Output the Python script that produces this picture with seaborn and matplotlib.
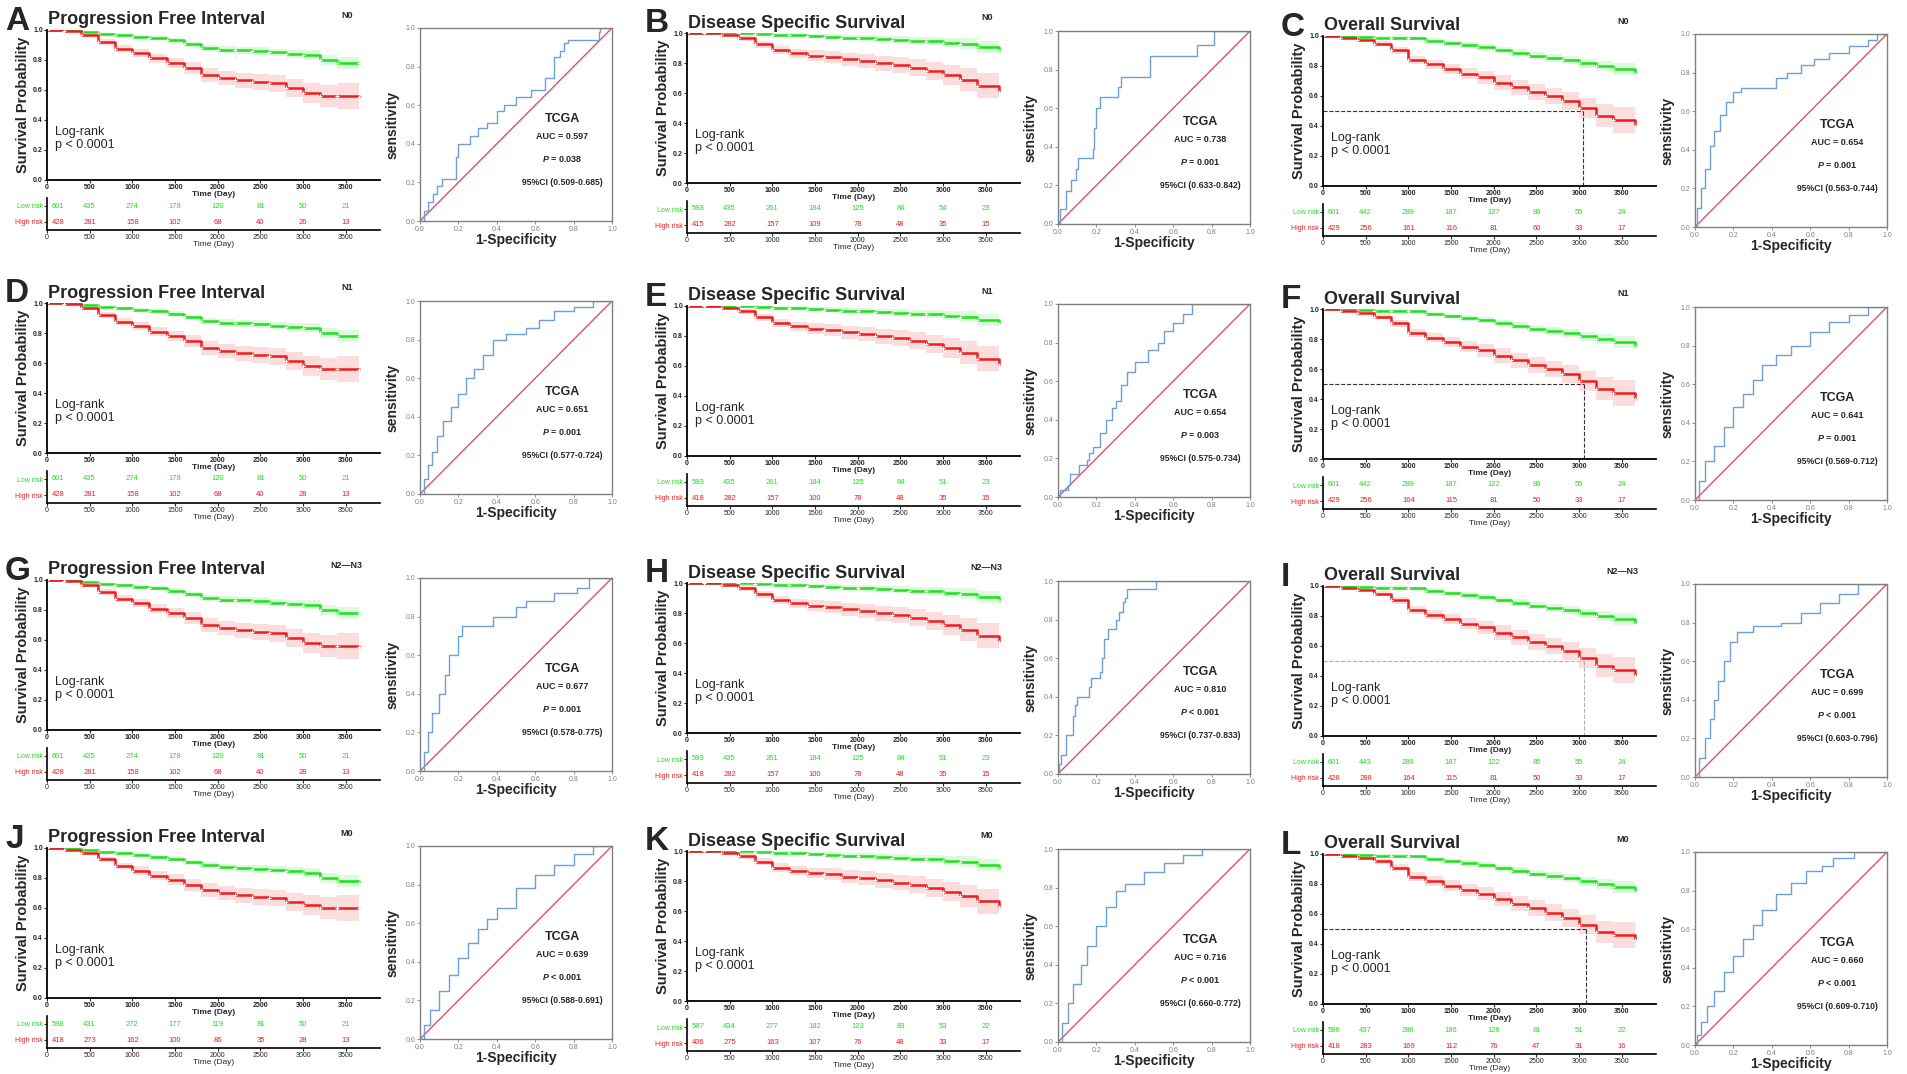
import matplotlib
matplotlib.use("Agg")
import matplotlib.pyplot as plt
import numpy as np
import seaborn as sns

# ---------------- data ----------------
km_days = [0, 200, 400, 600, 800, 1000, 1200, 1400, 1600, 1800, 2000,
           2200, 2400, 2600, 2800, 3000, 3200, 3400, 3650]

# survival (low risk = green, high risk = red)
pfi_low = [1.0, 1.0, 0.99, 0.975, 0.965, 0.955, 0.945, 0.93, 0.905, 0.88, 0.87,
           0.865, 0.86, 0.85, 0.84, 0.835, 0.80, 0.78, 0.78]
pfi_high = [1.0, 0.995, 0.965, 0.92, 0.875, 0.845, 0.81, 0.78, 0.745, 0.70, 0.68,
            0.665, 0.655, 0.645, 0.615, 0.58, 0.56, 0.56, 0.555]
pfi_m0_low = [1.0, 1.0, 0.99, 0.975, 0.965, 0.955, 0.94, 0.925, 0.905, 0.885, 0.875,
              0.865, 0.86, 0.855, 0.845, 0.835, 0.80, 0.78, 0.77]
pfi_m0_high = [1.0, 0.99, 0.965, 0.925, 0.88, 0.85, 0.815, 0.79, 0.755, 0.72, 0.70,
               0.685, 0.675, 0.665, 0.64, 0.62, 0.60, 0.60, 0.60]
dss_low = [1.0, 1.0, 1.0, 0.998, 0.995, 0.99, 0.985, 0.98, 0.975, 0.97, 0.965,
           0.96, 0.955, 0.95, 0.945, 0.935, 0.93, 0.91, 0.88]
dss_high = [1.0, 0.998, 0.99, 0.965, 0.925, 0.885, 0.865, 0.85, 0.84, 0.825, 0.815,
            0.80, 0.785, 0.77, 0.75, 0.72, 0.69, 0.65, 0.61]
dss_m0_high = [1.0, 0.998, 0.99, 0.967, 0.93, 0.89, 0.87, 0.855, 0.845, 0.83, 0.82,
               0.805, 0.79, 0.775, 0.755, 0.73, 0.70, 0.665, 0.63]
os_low = [1.0, 1.0, 0.995, 0.99, 0.99, 0.985, 0.97, 0.955, 0.94, 0.925, 0.905,
          0.89, 0.87, 0.855, 0.84, 0.82, 0.80, 0.78, 0.75]
os_high = [1.0, 0.99, 0.975, 0.95, 0.905, 0.84, 0.81, 0.78, 0.75, 0.725, 0.69,
           0.66, 0.625, 0.60, 0.565, 0.52, 0.47, 0.44, 0.40]
os_m0_high = [1.0, 0.99, 0.975, 0.952, 0.91, 0.85, 0.82, 0.79, 0.76, 0.735, 0.70,
              0.67, 0.64, 0.61, 0.575, 0.53, 0.48, 0.46, 0.43]

# half width of the shaded confidence bands
ci_low = [0, 0, 0.004, 0.007, 0.009, 0.011, 0.013, 0.015, 0.017, 0.019, 0.021,
          0.023, 0.024, 0.025, 0.027, 0.03, 0.034, 0.04, 0.045]
ci_high = [0, 0.004, 0.011, 0.017, 0.023, 0.027, 0.031, 0.035, 0.039, 0.044, 0.047,
           0.05, 0.052, 0.055, 0.06, 0.066, 0.075, 0.085, 0.09]

risk_days = [0, 500, 1000, 1500, 2000, 2500, 3000, 3500]
n_low = [
    [601, 435, 274, 178, 120, 81, 50, 21], [593, 435, 261, 184, 125, 84, 54, 23],
    [601, 442, 289, 187, 127, 86, 55, 24], [601, 435, 274, 178, 120, 81, 50, 21],
    [593, 435, 261, 184, 125, 84, 51, 23], [601, 442, 289, 187, 122, 86, 55, 24],
    [601, 435, 274, 178, 120, 81, 50, 21], [593, 435, 261, 184, 125, 84, 51, 23],
    [601, 443, 289, 187, 122, 85, 55, 24], [596, 431, 272, 177, 119, 81, 50, 21],
    [587, 434, 277, 182, 123, 83, 53, 22], [596, 437, 286, 186, 126, 81, 51, 22],
]
n_high = [
    [428, 281, 158, 102, 68, 40, 26, 13], [415, 282, 157, 109, 78, 48, 35, 15],
    [429, 256, 161, 116, 81, 60, 33, 17], [428, 281, 158, 102, 68, 40, 28, 13],
    [418, 282, 157, 100, 78, 48, 35, 15], [429, 256, 164, 115, 81, 50, 33, 17],
    [428, 281, 158, 102, 68, 40, 28, 13], [418, 282, 157, 100, 78, 48, 35, 15],
    [428, 288, 164, 115, 81, 50, 33, 17], [418, 273, 162, 100, 86, 35, 28, 13],
    [406, 275, 163, 107, 76, 48, 33, 17], [418, 283, 169, 112, 76, 47, 31, 16],
]
os_median_days = [3050, 3060, 3060, 3080]

# ROC curves: (1-specificity, sensitivity) at each vertical rise
fpr_a = [0, 0.02, 0.04, 0.07, 0.09, 0.115, 0.19, 0.20, 0.26, 0.30, 0.35, 0.40, 0.44, 0.50, 0.58, 0.65, 0.70, 0.73, 0.75, 0.77, 0.93, 0.94, 1.0]
tpr_a = [0, 0.05, 0.10, 0.14, 0.18, 0.22, 0.33, 0.40, 0.44, 0.48, 0.51, 0.57, 0.60, 0.64, 0.68, 0.74, 0.85, 0.88, 0.92, 0.94, 0.98, 1.0, 1.0]
fpr_b = [0, 0.01, 0.044, 0.07, 0.096, 0.105, 0.183, 0.19, 0.20, 0.218, 0.314, 0.33, 0.48, 0.724, 0.81, 1.0]
tpr_b = [0, 0.08, 0.17, 0.23, 0.285, 0.34, 0.39, 0.50, 0.60, 0.66, 0.71, 0.76, 0.87, 0.93, 1.0, 1.0]
fpr_c = [0, 0.01, 0.03, 0.05, 0.08, 0.10, 0.13, 0.16, 0.20, 0.24, 0.42, 0.48, 0.55, 0.62, 0.70, 0.80, 0.90, 0.95, 1.0]
tpr_c = [0, 0.10, 0.20, 0.30, 0.42, 0.50, 0.58, 0.65, 0.70, 0.72, 0.77, 0.80, 0.84, 0.87, 0.90, 0.94, 0.97, 1.0, 1.0]
fpr_d = [0, 0.02, 0.04, 0.06, 0.09, 0.12, 0.16, 0.20, 0.24, 0.28, 0.33, 0.38, 0.45, 0.55, 0.62, 0.70, 0.80, 0.90, 1.0]
tpr_d = [0, 0.08, 0.15, 0.22, 0.30, 0.38, 0.45, 0.52, 0.60, 0.65, 0.72, 0.80, 0.83, 0.86, 0.90, 0.95, 0.97, 1.0, 1.0]
fpr_e = [0, 0.01, 0.05, 0.06, 0.11, 0.15, 0.16, 0.18, 0.22, 0.25, 0.28, 0.30, 0.33, 0.36, 0.40, 0.47, 0.52, 0.55, 0.60, 0.65, 0.70, 1.0]
tpr_e = [0, 0.035, 0.06, 0.12, 0.165, 0.19, 0.23, 0.26, 0.33, 0.40, 0.46, 0.50, 0.58, 0.65, 0.70, 0.76, 0.80, 0.86, 0.90, 0.95, 1.0, 1.0]
fpr_f = [0, 0.02, 0.05, 0.10, 0.15, 0.20, 0.25, 0.30, 0.35, 0.42, 0.50, 0.60, 0.70, 0.80, 0.90, 1.0]
tpr_f = [0, 0.10, 0.20, 0.28, 0.38, 0.48, 0.55, 0.62, 0.70, 0.75, 0.80, 0.87, 0.92, 0.96, 1.0, 1.0]
fpr_g = [0, 0.02, 0.04, 0.06, 0.10, 0.13, 0.15, 0.20, 0.22, 0.38, 0.50, 0.55, 0.70, 0.82, 0.88, 1.0]
tpr_g = [0, 0.10, 0.20, 0.30, 0.40, 0.50, 0.60, 0.70, 0.75, 0.80, 0.85, 0.88, 0.92, 0.95, 1.0, 1.0]
fpr_h = [0, 0.005, 0.015, 0.04, 0.06, 0.08, 0.09, 0.10, 0.16, 0.17, 0.22, 0.23, 0.24, 0.26, 0.30, 0.32, 0.34, 0.35, 0.36, 0.51, 1.0]
tpr_h = [0, 0.05, 0.10, 0.20, 0.20, 0.30, 0.36, 0.40, 0.45, 0.50, 0.53, 0.60, 0.70, 0.75, 0.80, 0.84, 0.89, 0.91, 0.96, 1.0, 1.0]
fpr_i = [0, 0.02, 0.05, 0.08, 0.10, 0.12, 0.15, 0.18, 0.22, 0.30, 0.45, 0.55, 0.65, 0.75, 0.85, 1.0]
tpr_i = [0, 0.10, 0.20, 0.30, 0.40, 0.50, 0.60, 0.70, 0.75, 0.78, 0.80, 0.85, 0.90, 0.95, 1.0, 1.0]
fpr_j = [0, 0.02, 0.05, 0.10, 0.15, 0.20, 0.25, 0.30, 0.35, 0.40, 0.50, 0.60, 0.70, 0.80, 0.90, 1.0]
tpr_j = [0, 0.07, 0.15, 0.25, 0.33, 0.42, 0.50, 0.57, 0.62, 0.68, 0.78, 0.85, 0.90, 0.96, 1.0, 1.0]
fpr_k = [0, 0.02, 0.05, 0.08, 0.12, 0.15, 0.20, 0.25, 0.30, 0.35, 0.45, 0.55, 0.65, 0.75, 1.0]
tpr_k = [0, 0.10, 0.20, 0.30, 0.40, 0.50, 0.60, 0.70, 0.78, 0.82, 0.88, 0.93, 0.97, 1.0, 1.0]
fpr_l = [0, 0.01, 0.03, 0.06, 0.10, 0.15, 0.20, 0.25, 0.30, 0.35, 0.42, 0.50, 0.58, 0.66, 0.72, 0.83, 1.0]
tpr_l = [0, 0.05, 0.12, 0.20, 0.28, 0.38, 0.46, 0.55, 0.62, 0.70, 0.78, 0.84, 0.90, 0.93, 0.97, 1.0, 1.0]

auc_text = ["0.597", "0.738", "0.654", "0.651", "0.654", "0.641",
            "0.677", "0.810", "0.699", "0.639", "0.716", "0.660"]
p_text = ["= 0.038", "= 0.001", "= 0.001", "= 0.001", "= 0.003", "= 0.001",
          "= 0.001", "< 0.001", "< 0.001", "< 0.001", "< 0.001", "< 0.001"]
ci_text = ["0.509-0.685", "0.633-0.842", "0.563-0.744", "0.577-0.724",
           "0.575-0.734", "0.569-0.712", "0.578-0.775", "0.737-0.833",
           "0.603-0.796", "0.588-0.691", "0.660-0.772", "0.609-0.710"]

letters = list("ABCDEFGHIJKL")
endpoints = ["Progression Free Interval", "Disease Specific Survival", "Overall Survival"]
stages = ["N0", "N1", "N2\u2014N3", "M0"]

surv_low = [pfi_low, dss_low, os_low] * 3 + [pfi_m0_low, dss_low, os_low]
surv_high = [pfi_high, dss_high, os_high] * 3 + [pfi_m0_high, dss_m0_high, os_m0_high]
roc_fpr = [fpr_a, fpr_b, fpr_c, fpr_d, fpr_e, fpr_f, fpr_g, fpr_h, fpr_i, fpr_j, fpr_k, fpr_l]
roc_tpr = [tpr_a, tpr_b, tpr_c, tpr_d, tpr_e, tpr_f, tpr_g, tpr_h, tpr_i, tpr_j, tpr_k, tpr_l]

# ---------------- style ----------------
GREEN = "#1ee01e"
RED = "#ee1c1c"
BLUE = "#6f9fd8"
DIAG = "#e0506a"
GREY = "#808080"

sns.set_theme(style="ticks")
plt.rcParams["font.family"] = ["Liberation Sans", "DejaVu Sans"]
plt.rcParams["mathtext.fontset"] = "custom"
plt.rcParams["mathtext.it"] = "Liberation Sans:italic:bold"
plt.rcParams["mathtext.rm"] = "Liberation Sans:bold"

W, H = 1908, 1074
fig = plt.figure(figsize=(W / 100, H / 100), dpi=100)


def px_rect(x, y, w, h):
    return [x / W, 1 - (y + h) / H, w / W, h / H]


def draw_km(ax, tab, i, row, col):
    low, high = surv_low[i], surv_high[i]
    for surv, ci, c in ((low, ci_low, GREEN), (high, ci_high, RED)):
        s = np.array(surv)
        w = np.array(ci)
        ax.fill_between(km_days, np.clip(s - w, 0, 1), np.clip(s + w, 0, 1),
                        step="post", color=c, alpha=0.15, lw=0)
        sns.lineplot(x=km_days, y=surv, ax=ax, color=c, lw=1.8,
                     drawstyle="steps-post", estimator=None, sort=False,
                     marker="+", markersize=3.5, markeredgewidth=0.8)
    if col == 2:
        m = os_median_days[row]
        lc = "#b0b0b0" if row == 2 else "#333333"
        ax.plot([0, m], [0.5, 0.5], ls="--", color=lc, lw=0.8)
        ax.plot([m, m], [0, 0.5], ls="--", color=lc, lw=0.8)
    ax.set_xlim(0, 3900)
    ax.set_ylim(0, 1.0)
    ax.set_xticks(risk_days)
    ax.set_yticks([0, 0.2, 0.4, 0.6, 0.8, 1.0])
    ax.set_yticklabels(["0.0", "0.2", "0.4", "0.6", "0.8", "1.0"])
    ax.tick_params(labelsize=5, length=2, width=0.8, pad=1)
    for t in ax.get_xticklabels() + ax.get_yticklabels():
        t.set_fontweight("bold")
    ax.set_xlabel("Time (Day)", fontsize=6, fontweight="bold", labelpad=0)
    ax.set_ylabel("Survival Probability", fontsize=10.5, fontweight="bold", labelpad=2)
    sns.despine(ax=ax)
    for sp in ("left", "bottom"):
        ax.spines[sp].set_linewidth(1.3)
        ax.spines[sp].set_color("black")
    ax.text(0.025, 0.275, "Log-rank\np < 0.0001", transform=ax.transAxes,
            fontsize=9, va="center", ha="left", linespacing=1.1)

    # number at risk table
    tab.set_xlim(0, 3900)
    tab.set_ylim(-0.5, 1.5)
    tab.set_xticks(risk_days)
    tab.set_yticks([1, 0])
    tab.set_yticklabels(["Low risk", "High risk"])
    for lbl, c in zip(tab.get_yticklabels(), (GREEN, RED)):
        lbl.set_color(c)
    tab.tick_params(labelsize=5, length=2, width=0.8, pad=1)
    for j, d in enumerate(risk_days):
        ha = "left" if j == 0 else "center"
        x = d + 60 if j == 0 else d
        tab.text(x, 1, str(n_low[i][j]), color=GREEN, fontsize=5.5, ha=ha, va="center")
        tab.text(x, 0, str(n_high[i][j]), color=RED, fontsize=5.5, ha=ha, va="center")
    tab.set_xlabel("Time (Day)", fontsize=6, labelpad=0)
    sns.despine(ax=tab)
    for sp in ("left", "bottom"):
        tab.spines[sp].set_linewidth(1.2)
        tab.spines[sp].set_color("black")


def draw_roc(ax, i):
    ax.plot([0, 1], [0, 1], color=DIAG, lw=1.0)
    sns.lineplot(x=roc_fpr[i], y=roc_tpr[i], ax=ax, color=BLUE, lw=1.0,
                 drawstyle="steps-post", estimator=None, sort=False)
    ax.set_xlim(0, 1)
    ax.set_ylim(0, 1)
    ticks = [0, 0.2, 0.4, 0.6, 0.8, 1.0]
    labels = ["0.0", "0.2", "0.4", "0.6", "0.8", "1.0"]
    ax.set_xticks(ticks)
    ax.set_xticklabels(labels)
    ax.set_yticks(ticks)
    ax.set_yticklabels(labels)
    ax.tick_params(labelsize=5, length=2, width=0.6, color=GREY, labelcolor=GREY, pad=1.5)
    for sp in ax.spines.values():
        sp.set_color(GREY)
        sp.set_linewidth(1.0)
    ax.set_xlabel("1-Specificity", fontsize=10, fontweight="bold", labelpad=0)
    ax.set_ylabel("sensitivity", fontsize=10, fontweight="bold", labelpad=4)
    ax.text(0.74, 0.53, "TCGA", transform=ax.transAxes, fontsize=9,
            fontweight="bold", ha="center", va="center")
    ax.text(0.74, 0.44, "AUC = " + auc_text[i], transform=ax.transAxes,
            fontsize=6.5, fontweight="bold", ha="center", va="center")
    ax.text(0.74, 0.32, "$P$ " + p_text[i], transform=ax.transAxes,
            fontsize=6.5, fontweight="bold", ha="center", va="center")
    ax.text(0.74, 0.20, "95%CI (" + ci_text[i] + ")", transform=ax.transAxes,
            fontsize=6.2, fontweight="bold", ha="center", va="center")


# ---------------- layout ----------------
km_left = [47, 687, 1323]
roc_left = [420, 1058, 1695]
row_top = [30, 303, 580, 848]
col_dy = [0, 3, 6]
km_w, km_h = 333, 150
roc_w, roc_h = 192, 193

for row in range(4):
    for col in range(3):
        i = row * 3 + col
        top = row_top[row] + col_dy[col]
        x0 = km_left[col]
        ax = fig.add_axes(px_rect(x0, top, km_w, km_h))
        tab = fig.add_axes(px_rect(x0, top + km_h + 18, km_w, 32))
        draw_km(ax, tab, i, row, col)
        roc = fig.add_axes(px_rect(roc_left[col], top - 2, roc_w, roc_h))
        draw_roc(roc, i)

        fig.text((x0 - 42) / W, 1 - (top - 9) / H, letters[i], fontsize=24,
                 fontweight="bold", ha="left", va="center")
        fig.text((x0 + 1) / W, 1 - (top - 10) / H, endpoints[col], fontsize=13,
                 fontweight="bold", ha="left", va="center")
        fig.text((x0 + 0.9 * km_w) / W, 1 - (top - 15) / H, stages[row], fontsize=6.5,
                 fontweight="bold", ha="center", va="center")

fig.savefig("out.png", dpi=100)
